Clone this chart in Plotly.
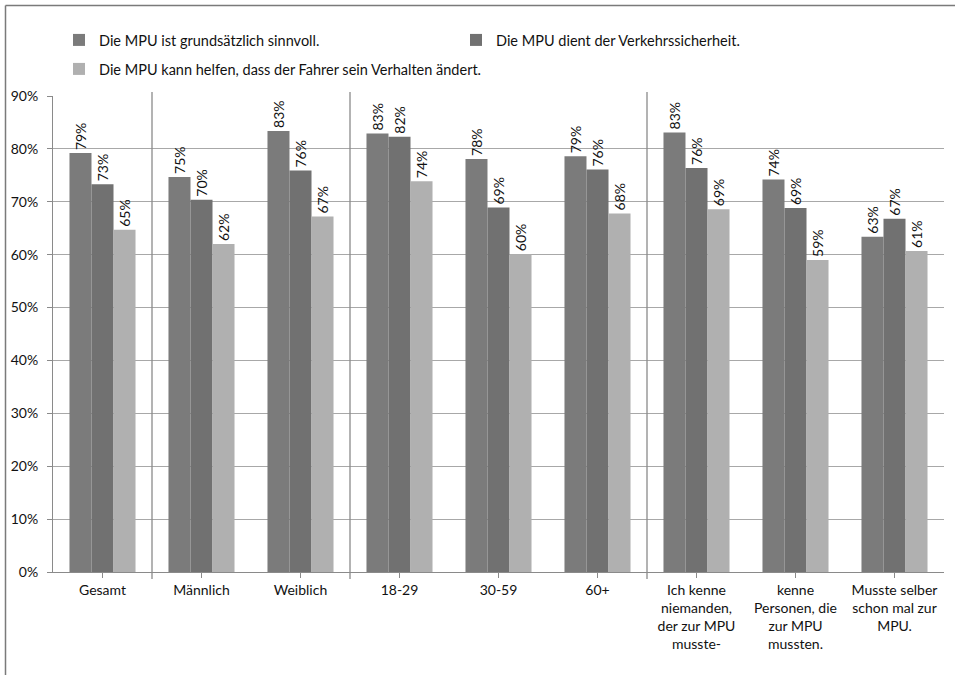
import plotly.graph_objects as go

categories = [
    "Gesamt", "Männlich", "Weiblich", "18-29", "30-59", "60+",
    "Ich kenne<br>niemanden,<br>der zur MPU<br>musste-",
    "kenne<br>Personen, die<br>zur MPU<br>mussten.",
    "Musste selber<br>schon mal zur<br>MPU.",
]
series_names = [
    "Die MPU ist grundsätzlich sinnvoll.",
    "Die MPU dient der Verkehrssicherheit.",
    "Die MPU kann helfen, dass der Fahrer sein Verhalten ändert.",
]
sinnvoll = [79.2, 74.7, 83.4, 82.9, 78.1, 78.6, 83.1, 74.2, 63.4]
sicherheit = [73.3, 70.4, 75.9, 82.3, 68.9, 76.1, 76.4, 68.8, 66.8]
verhalten = [64.7, 62.0, 67.2, 73.9, 60.1, 67.8, 68.6, 59.0, 60.7]
y_ticks = [0, 10, 20, 30, 40, 50, 60, 70, 80, 90]
y_ticktext = [f"{v}%" for v in y_ticks]
group_breaks = [0.5, 2.5, 5.5]

colors = ["#7b7b7b", "#717171", "#b0b0b0"]
legend_ids = ["legend", "legend", "legend2"]
FONT = "Lato, 'Open Sans', sans-serif"

W, H = 955, 675
L, R, T, B = 53, 11, 96, 103
pw, ph = W - L - R, H - T - B

fig = go.Figure()
for name, vals, col, lg in zip(series_names, [sinnvoll, sicherheit, verhalten], colors, legend_ids):
    fig.add_trace(go.Bar(
        x=list(range(len(categories))),
        y=vals,
        name=name,
        legend=lg,
        marker=dict(color=col, line=dict(width=0)),
        text=[f"{round(v)}%" for v in vals],
        textposition="outside",
        textangle=-90,
        constraintext="none",
        textfont=dict(family=FONT, size=14, color="#111111"),
        cliponaxis=False,
    ))

# vertical separators between category groups
for xb in group_breaks:
    fig.add_shape(type="line", xref="x", yref="paper",
                  x0=xb, x1=xb, y0=-7 / ph, y1=1 + 4 / ph,
                  line=dict(color="#8a8a8a", width=1.3))

# outer frame (left and top edge)
fig.add_shape(type="line", xref="paper", yref="paper",
              x0=(5.5 - L) / pw, x1=(5.5 - L) / pw, y0=-(B + 5) / ph, y1=(H - 5.5 - B) / ph,
              line=dict(color="#7a7a7a", width=1.5))
fig.add_shape(type="line", xref="paper", yref="paper",
              x0=(5.5 - L) / pw, x1=(W + 5 - L) / pw, y0=(H - 5.5 - B) / ph, y1=(H - 5.5 - B) / ph,
              line=dict(color="#7a7a7a", width=1.5))

legend_common = dict(
    orientation="h", xanchor="left", yanchor="middle",
    entrywidthmode="pixels",
    font=dict(family=FONT, size=14.5, color="#111111"),
    traceorder="normal", bgcolor="rgba(0,0,0,0)",
)

fig.update_layout(
    width=W, height=H,
    margin=dict(l=L, r=R, t=T, b=B, pad=0),
    paper_bgcolor="white", plot_bgcolor="white",
    barmode="group", bargap=0.333, bargroupgap=0,
    font=dict(family=FONT, size=14, color="#111111"),
    showlegend=True,
    legend=dict(x=(59 - L) / pw, y=1 + (T - 40) / ph, entrywidth=352, **legend_common),
    legend2=dict(x=(59 - L) / pw, y=1 + (T - 69) / ph, entrywidth=500, **legend_common),
    xaxis=dict(
        tickmode="array", tickvals=list(range(len(categories))), ticktext=categories,
        range=[-0.5, len(categories) - 0.5],
        showline=True, linecolor="#8a8a8a", linewidth=1,
        ticks="outside", tickson="boundaries", ticklen=5, tickcolor="#8a8a8a",
        showgrid=False, tickfont=dict(family=FONT, size=14, color="#111111"),
    ),
    yaxis=dict(
        range=[0, 90], tickmode="array", tickvals=y_ticks, ticktext=y_ticktext,
        showline=True, linecolor="#8a8a8a", linewidth=1,
        ticks="outside", ticklen=5, tickcolor="#8a8a8a", ticklabelstandoff=6,
        showgrid=True, gridcolor="#a8a8a8", gridwidth=1,
        zeroline=False, tickfont=dict(family=FONT, size=14, color="#111111"),
    ),
)

fig.write_html("out.html")
